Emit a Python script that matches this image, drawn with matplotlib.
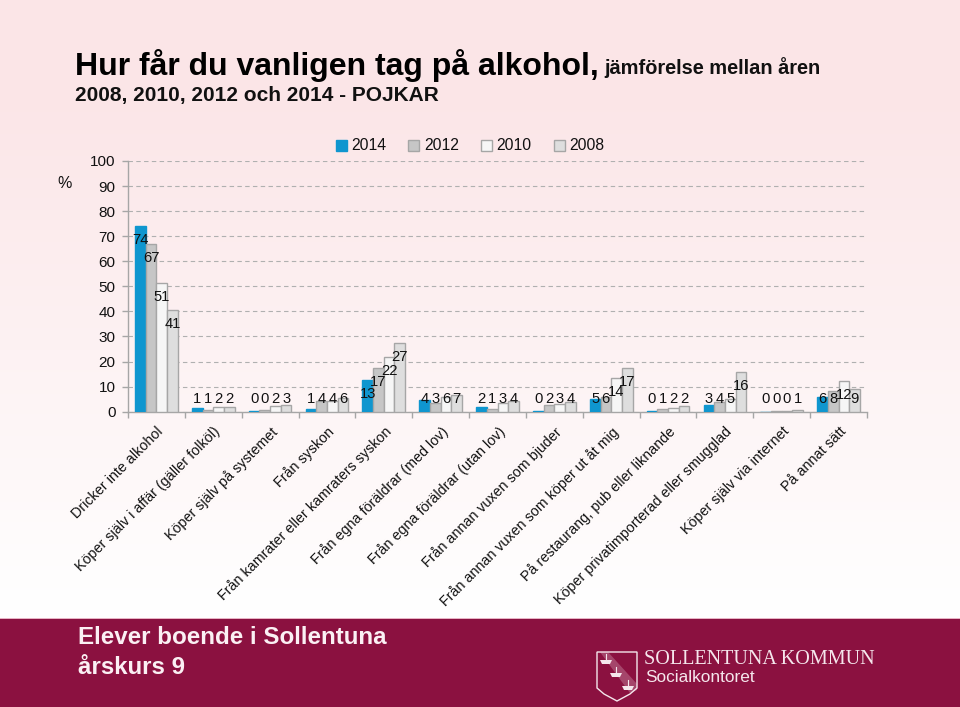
import numpy as np
import matplotlib
matplotlib.use("Agg")
import matplotlib.pyplot as plt
from matplotlib.patches import Polygon, Rectangle

plt.rcParams['font.family'] = ['Liberation Sans', 'DejaVu Sans']

categories = ["Dricker inte alkohol", "Köper själv i affär (gäller folköl)", "Köper själv på systemet",
              "Från syskon", "Från kamrater eller kamraters syskon", "Från egna föräldrar (med lov)",
              "Från egna föräldrar (utan lov)", "Från annan vuxen som bjuder",
              "Från annan vuxen som köper ut åt mig", "På restaurang, pub eller liknande",
              "Köper privatimporterad eller smugglad", "Köper själv via internet", "På annat sätt"]
years = ["2014", "2012", "2010", "2008"]
v2014 = [74.2, 1.5, 0.1, 1.0, 12.7, 4.5, 1.9, 0.2, 5.0, 0.2, 2.7, 0.0, 5.7]
v2012 = [67.0, 0.8, 0.5, 4.2, 17.3, 3.3, 1.0, 2.5, 6.0, 1.0, 3.7, 0.2, 8.2]
v2010 = [51.3, 2.0, 2.2, 4.2, 21.8, 5.8, 3.3, 3.2, 13.5, 1.6, 4.9, 0.4, 12.2]
v2008 = [40.7, 2.0, 2.8, 5.6, 27.3, 6.8, 4.2, 3.8, 17.3, 2.4, 16.0, 0.7, 9.2]
l2014 = [74, 1, 0, 1, 13, 4, 2, 0, 5, 0, 3, 0, 6]
l2012 = [67, 1, 0, 4, 17, 3, 1, 2, 6, 1, 4, 0, 8]
l2010 = [51, 2, 2, 4, 22, 6, 3, 3, 14, 2, 5, 0, 12]
l2008 = [41, 2, 3, 6, 27, 7, 4, 4, 17, 2, 16, 1, 9]
yticks = list(range(0, 101, 10))

W, H = 960, 707
fig = plt.figure(figsize=(9.6, 7.07), dpi=100)

# page background
bg = fig.add_axes([0, 0, 1, 1], zorder=0)
bg.set_xlim(0, W); bg.set_ylim(H, 0); bg.axis('off')
top = np.array([0xFB, 0xE5, 0xE7]) / 255
bot = np.array([0xFF, 0xFF, 0xFF]) / 255
t = np.clip((np.linspace(0, 620, 310) - 90) / 520, 0, 1)[:, None, None]
bg.imshow(top * (1 - t) + bot * t, extent=[0, W, 620, 0], aspect='auto')
bg.set_xlim(0, W); bg.set_ylim(H, 0)
band = '#8B1140'
bg.add_patch(Rectangle((0, 619), W, 88, color=band, lw=0))
bg.add_patch(Rectangle((0, 618), W, 1.2, color='#E8B4C6', lw=0))

fig.text(75/W, 1-65/H, "Hur får du vanligen tag på alkohol,", fontsize=23, fontweight='bold', color='black', va='center')
fig.text(604/W, 1-68/H, "jämförelse mellan åren", fontsize=14.4, fontweight='bold', color='#111111', va='center')
fig.text(75/W, 1-95/H, "2008, 2010, 2012 och 2014 - POJKAR", fontsize=15, fontweight='bold', color='#111111', va='center')
fig.text(65/W, 1-183/H, "%", fontsize=11.5, ha='center', va='center', color='#111111')

fig.text(78/W, 1-638/H, "Elever boende i Sollentuna", fontsize=17.4, color='#FBF0F4', va='center', fontweight='bold')
fig.text(78/W, 1-667/H, "årskurs 9", fontsize=17.4, color='#FBF0F4', va='center', fontweight='bold')
fig.text(644/W, 1-659/H, "SOLLENTUNA KOMMUN", fontsize=14.5, color='#F5E6EC', va='center', family='Liberation Serif')
fig.text(645/W, 1-677/H, "Socialkontoret", fontsize=12.4, color='#F5E6EC', va='center')

# shield
shield = [(597, 652), (637, 652), (637, 688), (630, 694), (617, 701), (604, 694), (597, 688)]
bg.add_patch(Polygon(shield, closed=True, fc='none', ec='#F5E6EC', lw=1))
bg.add_patch(Polygon([(600, 652), (608, 652), (637, 684), (637, 690), (630, 693)], closed=True, fc='#F5E6EC', alpha=0.25, lw=0))
for sx, sy in [(606, 660), (616, 673), (628, 686)]:
    bg.add_patch(Polygon([(sx-6, sy), (sx+6, sy), (sx+4, sy+4), (sx-4, sy+4)], closed=True, fc='#F5E6EC', lw=0))
    bg.plot([sx, sx], [sy-6, sy], color='#F5E6EC', lw=0.8)

# chart
ax = fig.add_axes([128/W, 1-411.7/H, (867-128)/W, (411.7-161)/H], zorder=2)
ax.patch.set_alpha(0)
series = [v2014, v2012, v2010, v2008]
labels = [l2014, l2012, l2010, l2008]
fills = ['#0F96CF', '#C6C6C6', '#F6F6F6', '#DEDEDE']
edges = ['#0F96CF', '#A6A6A6', '#A6A6A6', '#A6A6A6']
x = np.arange(len(categories))
bw = 0.1875
for i, (vals, labs) in enumerate(zip(series, labels)):
    xs = x + (i - 1.5) * bw
    ax.bar(xs, vals, width=bw, color=fills[i], edgecolor=edges[i], linewidth=1.0, zorder=3, label=years[i])
    for xi, v, lab in zip(xs, vals, labs):
        ax.text(xi, max(v - 5.6, 5.2), str(lab), ha='center', va='center', fontsize=10.6, color='#111111', zorder=5)

ax.set_xlim(-0.5, len(categories) - 0.5)
ax.set_ylim(0, 100)
ax.set_yticks(yticks)
ax.set_xticks(x)
ax.set_xticklabels(categories, rotation=45, ha='right', va='top', rotation_mode='anchor', fontsize=10.3, color='#111111')
ax.tick_params(axis='x', length=0, pad=9)
ax.set_xticks(np.arange(len(categories) + 1) - 0.5, minor=True)
ax.tick_params(axis='x', which='minor', length=4, color='#A6A6A6', width=1)
ax.tick_params(axis='y', length=4, color='#A6A6A6', width=1, labelsize=11, labelcolor='#111111', pad=5)
ax.grid(axis='y', color='#B0B0B0', linestyle=(0, (4, 3)), linewidth=0.8, zorder=1)
ax.set_axisbelow(True)
for s in ['top', 'right']:
    ax.spines[s].set_visible(False)
for s in ['left', 'bottom']:
    ax.spines[s].set_color('#A6A6A6')
    ax.spines[s].set_linewidth(1)

ax.legend(loc='center', bbox_to_anchor=((470-128)/(867-128), (411.7-146)/(411.7-161)), ncol=4, frameon=False,
          fontsize=11.3, handlelength=0.7, handleheight=0.7, handletextpad=0.3, columnspacing=1.4,
          labelcolor='#111111', borderpad=0)

fig.savefig("out.png", dpi=100)
